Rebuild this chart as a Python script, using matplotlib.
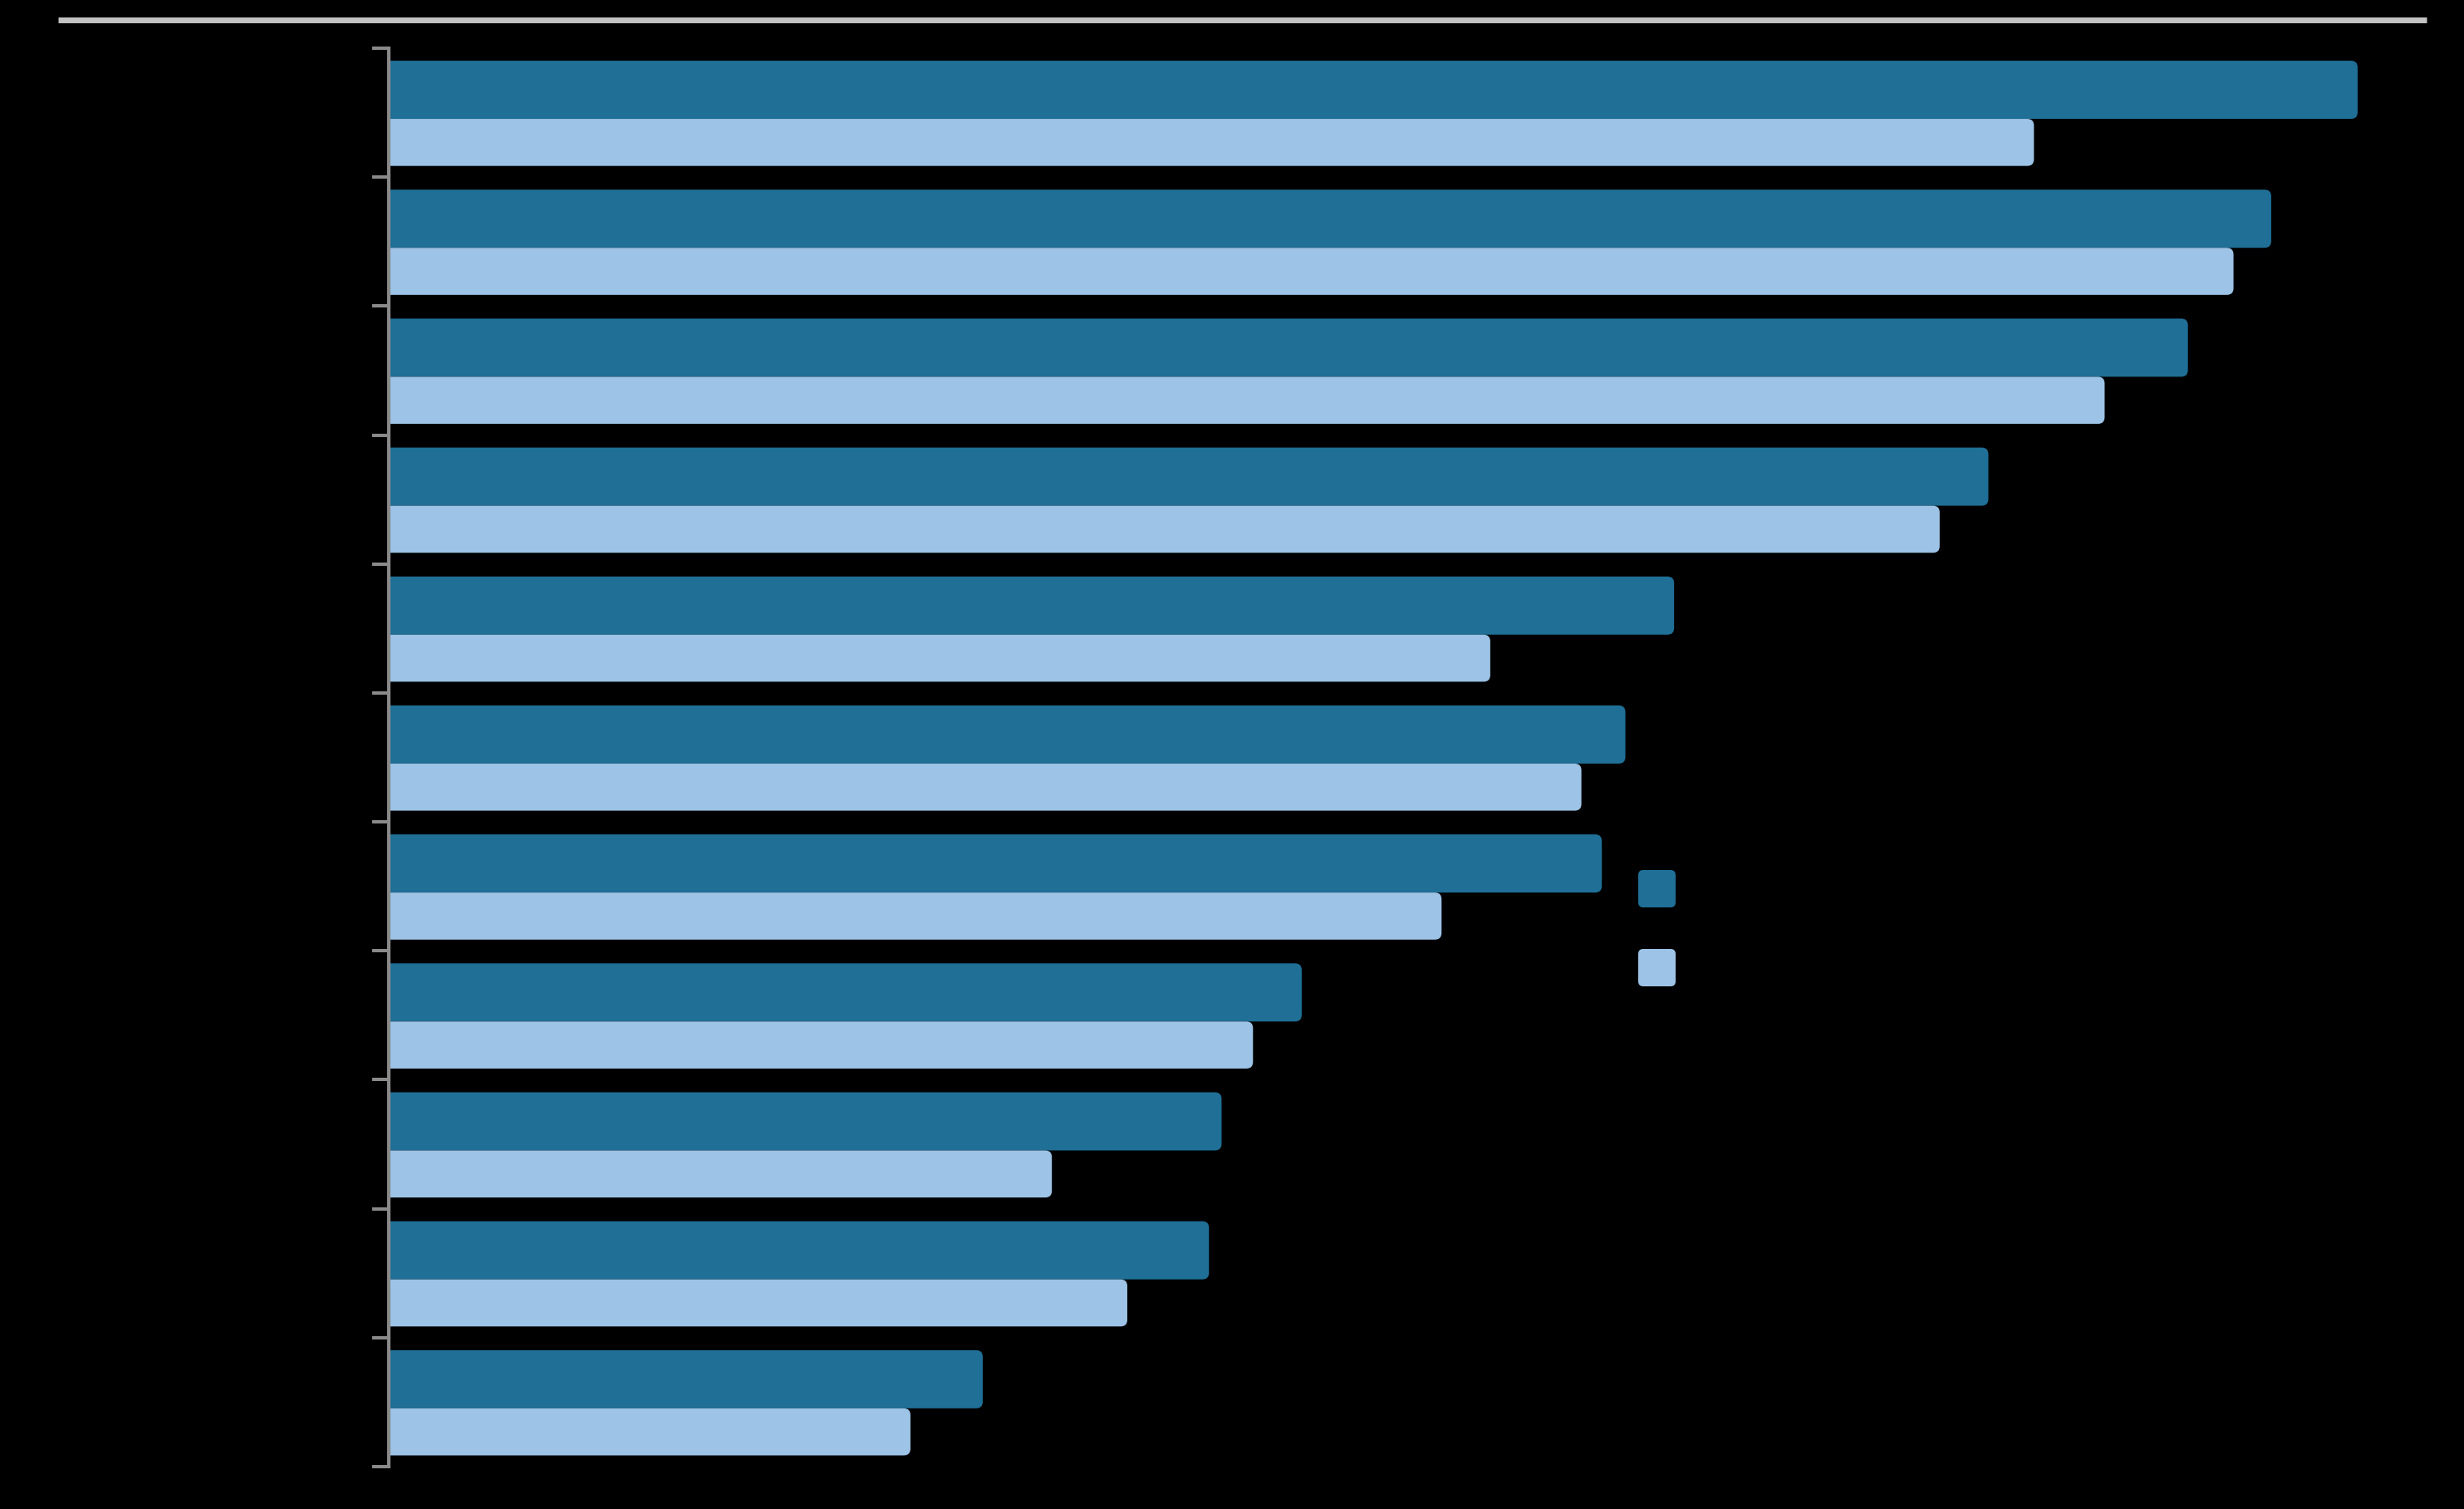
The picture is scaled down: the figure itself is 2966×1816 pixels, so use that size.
import matplotlib
matplotlib.use("Agg")
import matplotlib.pyplot as plt
from matplotlib.patches import FancyBboxPatch
from matplotlib.lines import Line2D
import numpy as np

# values (arbitrary units, no axis shown)
dark_vals = [62.65, 59.9, 57.25, 50.9, 40.9, 39.35, 38.6, 29.05, 26.5, 26.1, 18.9]
light_vals = [52.35, 58.7, 54.6, 49.35, 35.05, 37.95, 33.5, 27.5, 21.1, 23.5, 16.6]

DARK = "#1f6f96"
LIGHT = "#9dc3e6"
BG = "#000000"

W, H, DPI = 2966, 1816, 100
fig = plt.figure(figsize=(W / DPI, H / DPI), dpi=DPI, facecolor=BG)
ax = fig.add_axes([468 / W, 51 / H, (2900 - 468) / W, (1765 - 58) / H], facecolor=BG)

n = len(dark_vals)
xmax = 64.29
ax.set_xlim(0, xmax)
ax.set_ylim(n, 0)

# pixel -> data scale, for rounded corners
px_x = (2900 - 468) / xmax
px_y = (1765 - 58) / n
r_px = 8
rx = r_px / px_x
aspect = (r_px / px_y) / rx


def rbar(x, y0, h, color):
    # start left of the spine so only the right corners show rounded
    p = FancyBboxPatch((-rx, y0), x + rx, h,
                       boxstyle=f"round,pad=0,rounding_size={rx}",
                       mutation_aspect=aspect, fc=color, ec="none", lw=0)
    ax.add_patch(p)


idx = np.arange(n)
for i in idx:
    rbar(dark_vals[i], i + 0.097, 0.451, DARK)
    rbar(light_vals[i], i + 0.548, 0.365, LIGHT)

for s in ["top", "right", "bottom"]:
    ax.spines[s].set_visible(False)
ax.spines["left"].set_color("#8a8a8a")
ax.spines["left"].set_linewidth(2.9)
ax.set_yticks(np.arange(n + 1))
ax.set_yticklabels([])
ax.set_xticks([])
ax.tick_params(axis="y", length=14.4, width=2.9, color="#8a8a8a", direction="out")

# top rule
fig.add_artist(Line2D([70 / W, 2921 / W], [1 - 23.5 / H, 1 - 23.5 / H],
                      transform=fig.transFigure, color="#c3c3c3", lw=5.0,
                      solid_capstyle="butt"))

# legend swatches
for col, ytop in [(DARK, 1047), (LIGHT, 1142)]:
    sw = FancyBboxPatch((1972 / DPI, (H - ytop - 45) / DPI), 45 / DPI, 45 / DPI,
                        boxstyle=f"round,pad=0,rounding_size={6 / DPI}",
                        transform=fig.dpi_scale_trans, fc=col, ec="none")
    fig.add_artist(sw)

fig.savefig("out.png", dpi=DPI, facecolor=BG)
